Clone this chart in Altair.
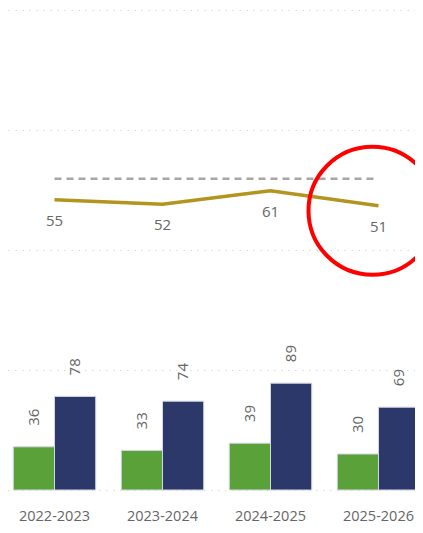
import altair as alt
import pandas as pd

# ---- data ----
years = ["2022-2023", "2023-2024", "2024-2025", "2025-2026"]
score = [55, 52, 61, 51]
target = [69, 69, 69, 69]
series_a = [36, 33, 39, 30]
series_b = [78, 74, 89, 69]
series_names = ["A", "B"]
highlight_year = "2025-2026"

line_df = pd.DataFrame({"year": years, "score": score, "target": target})
bar_df = pd.DataFrame({
    "year": years * 2,
    "series": [series_names[0]] * 4 + [series_names[1]] * 4,
    "value": series_a + series_b,
})

FONT = "Segoe UI, Open Sans, sans-serif"
TXT = "#666666"
GRID = "#d9d9d9"
W = 407
H = 517

# ---------------- line part (upper area of the view) ----------------
x_line = alt.X(
    "year:N", sort=years, axis=None,
    scale=alt.Scale(type="point", domain=years, range=[-7.5, 424.5],
                    padding=0.5),
)

top_axis = alt.Axis(values=[21.5, 101.5, 181.5], labels=False, ticks=False,
                    domain=False, title=None, grid=True, orient="right",
                    gridDash=[1.5, 5.5], gridColor=GRID, gridWidth=1.2)


def y_top(field):
    return alt.Y(
        f"{field}:Q",
        scale=alt.Scale(domain=[21.5, 181.5], range=[242, 2], nice=False,
                        zero=False),
        axis=top_axis,
    )


base_top = alt.Chart(line_df)

target_line = base_top.mark_line(
    color="#a6a6a6", strokeWidth=2.5, strokeDash=[7, 5]
).encode(x=x_line, y=y_top("target"))

score_line = base_top.mark_line(
    color="#B3941F", strokeWidth=3.5
).encode(x=x_line, y=y_top("score"))

score_labels = base_top.mark_text(
    dy=21, baseline="middle", align="center", fontSize=15, font=FONT, color=TXT
).encode(x=x_line, y=y_top("score"), text=alt.Text("score:Q"))

ring = base_top.mark_point(
    shape="circle", size=16384, filled=False, stroke="#FF0000",
    strokeWidth=4, opacity=1, xOffset=-6, yOffset=5
).encode(x=x_line, y=y_top("score")).transform_filter(
    alt.datum.year == highlight_year
)

line_part = alt.layer(target_line, score_line, score_labels, ring)

# ---------------- bar part (lower area of the view) ----------------
x_bar = alt.X(
    "year:N", sort=years,
    scale=alt.Scale(type="band", domain=years, range=[-7.5, 424.5],
                    paddingInner=0, paddingOuter=0),
    axis=alt.Axis(title=None, ticks=False, domain=False, labelPadding=19,
                  offset=482 - H, labelFontSize=14.5, labelColor=TXT,
                  labelFont=FONT, labelAngle=0, grid=False),
)
xo = alt.XOffset(
    "series:N",
    scale=alt.Scale(domain=series_names, paddingInner=0, paddingOuter=0.31),
)
y_bar = alt.Y(
    "value:Q",
    scale=alt.Scale(domain=[0, 100], range=[482, 362], nice=False),
    axis=alt.Axis(values=[0, 100], labels=False, ticks=False, domain=False,
                  title=None, grid=True, gridDash=[1.5, 5.5],
                  gridColor=GRID, gridWidth=1.2),
)
color = alt.Color(
    "series:N",
    scale=alt.Scale(domain=series_names, range=["#5BA13A", "#2D386A"]),
    legend=None,
)

base_bot = alt.Chart(bar_df)
bars = base_bot.mark_bar(stroke="#d3d6e2", strokeWidth=1).encode(
    x=x_bar, xOffset=xo, y=y_bar, color=color
)
bar_labels = base_bot.mark_text(
    angle=270, align="left", baseline="middle", dx=21,
    fontSize=15, font=FONT, color=TXT
).encode(x=x_bar, xOffset=xo, y=y_bar, text=alt.Text("value:Q"))

bar_part = alt.layer(bars, bar_labels)

chart = alt.layer(bar_part, line_part).resolve_scale(
    x="independent", y="independent"
).properties(
    width=W, height=H, padding=0,
    autosize=alt.AutoSizeParams(type="none"),
).configure(background="white").configure_view(stroke=None)

chart.save("out.html", embed_options={"renderer": "svg", "actions": False})
